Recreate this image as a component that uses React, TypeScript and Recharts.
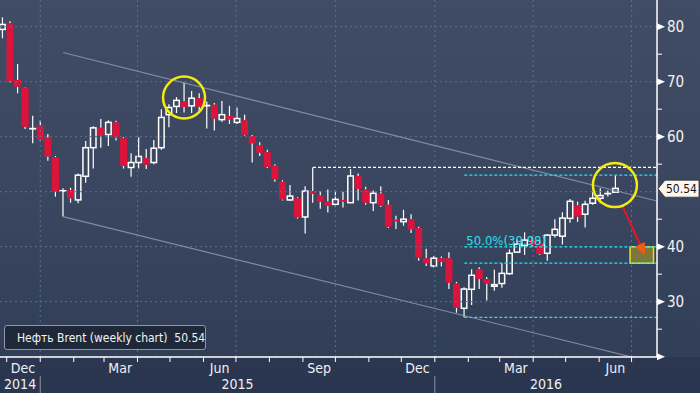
import React from 'react'
import { ComposedChart, Bar, Area, XAxis, YAxis, ReferenceLine, ReferenceDot, ReferenceArea } from 'recharts'

// weekly Brent candles, week ending dates
const weeks = [
  '2014-11-21', '2014-11-28', '2014-12-05', '2014-12-12', '2014-12-19', '2014-12-26',
  '2015-01-02', '2015-01-09', '2015-01-16', '2015-01-23', '2015-01-30', '2015-02-06',
  '2015-02-13', '2015-02-20', '2015-02-27', '2015-03-06', '2015-03-13', '2015-03-20',
  '2015-03-27', '2015-04-03', '2015-04-10', '2015-04-17', '2015-04-24', '2015-05-01',
  '2015-05-08', '2015-05-15', '2015-05-22', '2015-05-29', '2015-06-05', '2015-06-12',
  '2015-06-19', '2015-06-26', '2015-07-03', '2015-07-10', '2015-07-17', '2015-07-24',
  '2015-07-31', '2015-08-07', '2015-08-14', '2015-08-21', '2015-08-28', '2015-09-04',
  '2015-09-11', '2015-09-18', '2015-09-25', '2015-10-02', '2015-10-09', '2015-10-16',
  '2015-10-23', '2015-10-30', '2015-11-06', '2015-11-13', '2015-11-20', '2015-11-27',
  '2015-12-04', '2015-12-11', '2015-12-18', '2015-12-24', '2015-12-31', '2016-01-08',
  '2016-01-15', '2016-01-22', '2016-01-29', '2016-02-05', '2016-02-12', '2016-02-19',
  '2016-02-26', '2016-03-04', '2016-03-11', '2016-03-18', '2016-03-24', '2016-04-01',
  '2016-04-08', '2016-04-15', '2016-04-22', '2016-04-29', '2016-05-06', '2016-05-13',
  '2016-05-20', '2016-05-27', '2016-06-03', '2016-06-10',
]
const open = [
  79.5, 80.6, 70.3, 68.9, 61.4, 62.1, 59.8, 56.3, 50.1, 50.3, 48.5, 52.8,
  58.0, 61.6, 60.4, 62.6, 59.7, 54.4, 55.3, 56.1, 55.3, 58.0, 64.0, 65.5,
  66.4, 65.6, 67.0, 65.6, 65.8, 63.1, 63.75, 62.6, 63.0, 60.1, 58.4, 57.2,
  54.7, 51.8, 48.5, 48.8, 45.4, 50.1, 49.3, 48.2, 47.7, 48.5, 48.0, 52.85,
  50.4, 48.0, 49.6, 47.6, 44.85, 44.55, 45.0, 43.4, 37.9, 36.5, 37.9, 37.9,
  33.3, 28.8, 32.25, 35.9, 34.1, 32.8, 33.3, 35.1, 39.0, 40.2, 41.3, 40.7,
  38.8, 42.1, 41.9, 45.15, 47.5, 45.9, 47.9, 48.8, 49.6, 49.9,
]
const high = [
  81.7, 81.0, 73.2, 69.0, 63.8, 63.0, 60.5, 56.5, 50.6, 50.7, 53.3, 59.2,
  61.9, 63.2, 63.0, 62.9, 59.9, 57.0, 59.9, 57.75, 59.4, 65.0, 65.9, 67.2,
  69.8, 68.3, 67.9, 66.4, 66.1, 66.5, 65.6, 65.3, 64.0, 60.3, 59.0, 57.6,
  55.0, 52.1, 51.2, 49.0, 51.0, 54.4, 50.1, 50.4, 50.3, 50.0, 54.1, 53.3,
  50.9, 50.2, 51.0, 48.5, 45.6, 46.7, 45.9, 43.6, 39.6, 38.3, 38.2, 39.0,
  33.6, 32.6, 35.9, 36.25, 34.5, 35.8, 37.0, 39.5, 41.3, 42.6, 41.8, 41.2,
  42.3, 45.0, 46.25, 48.65, 48.2, 48.35, 49.9, 50.6, 50.2, 53.0,
]
const low = [
  77.9, 69.9, 67.9, 61.4, 58.8, 59.2, 55.6, 49.1, 45.5, 48.0, 47.9, 51.6,
  54.2, 58.0, 58.3, 59.3, 54.2, 52.7, 54.2, 54.1, 55.0, 57.6, 61.7, 64.3,
  64.4, 64.3, 64.3, 61.5, 61.1, 62.7, 62.3, 62.3, 60.2, 55.3, 56.5, 54.3,
  51.8, 48.4, 48.3, 45.1, 42.4, 48.0, 46.9, 46.2, 47.2, 47.1, 47.9, 48.4,
  47.6, 46.5, 47.2, 43.4, 43.2, 43.8, 42.5, 37.45, 36.5, 36.2, 36.4, 32.3,
  28.0, 27.15, 29.4, 32.3, 30.2, 32.0, 32.55, 34.9, 38.9, 38.5, 40.0, 38.5,
  37.45, 41.65, 40.4, 44.35, 44.5, 43.5, 47.6, 47.9, 49.1, 49.8,
]
const close = [
  80.4, 70.1, 69.1, 61.8, 61.5, 59.45, 56.4, 50.1, 50.2, 48.8, 53.0, 58.0,
  61.6, 60.2, 62.6, 59.8, 54.7, 55.3, 56.4, 54.9, 57.9, 63.5, 65.3, 66.6,
  65.4, 67.0, 65.45, 65.7, 63.3, 64.0, 63.15, 63.3, 60.35, 58.8, 57.1, 54.5,
  52.25, 48.6, 49.2, 45.35, 50.1, 49.6, 48.2, 47.45, 48.6, 48.2, 52.85, 50.5,
  48.0, 49.7, 47.45, 43.6, 44.65, 45.0, 43.15, 38.0, 37.0, 37.9, 37.25, 33.45,
  28.9, 32.3, 34.8, 34.1, 33.3, 33.1, 35.15, 38.8, 40.45, 41.2, 40.3, 38.65,
  42.1, 43.15, 45.2, 48.25, 45.45, 47.7, 48.8, 49.3, 49.7, 50.6,
]

const seriesName = 'Нефть Brent (weekly chart)'
const lastPrice = 50.54

// price channel (week index, price)
const channelX = [7.97, 86.46]
const channelUpper = [75.3, 48.3]
const channelLower = [45.45, 18.8]

// retracement drawn from the January 2016 low
const fibStartWeek = 61
const fibLevels = [53.0, 39.98, 37.0, 27.15]
const fibLabel = '50.0%(39.98)'
const resistStartWeek = 41
const resistLevel = 54.4

// annotations
const circles = [
  { x: 23.96, y: 67.1, r: 21 },
  { x: 80.9, y: 51.2, r: 22 },
]
const arrowFrom = { x: 81.92, y: 47.27 }
const arrowTo = { x: 84.87, y: 38.49 }
const targetBox = { x1: 82.9, x2: 86.0, y1: 37.0, y2: 39.98 }

const monthNames = ['Jan', 'Feb', 'Mar', 'Apr', 'May', 'Jun', 'Jul', 'Aug', 'Sep', 'Oct', 'Nov', 'Dec']
const monthStarts: [number, number][] = [
  [2014, 12], [2015, 1], [2015, 2], [2015, 3], [2015, 4], [2015, 5], [2015, 6], [2015, 7],
  [2015, 8], [2015, 9], [2015, 10], [2015, 11], [2015, 12], [2016, 1], [2016, 2], [2016, 3],
  [2016, 4], [2016, 5], [2016, 6], [2016, 7],
]
const labelMonths: [number, number][] = [
  [2014, 12], [2015, 3], [2015, 6], [2015, 9], [2015, 12], [2016, 3], [2016, 6],
]
const years = [2014, 2015, 2016]

const yTicks = [20, 25, 30, 35, 40, 45, 50, 55, 60, 65, 70, 75, 80]
const yGrid = [20, 30, 40, 50, 60, 70, 80]

const X_DOMAIN: [number, number] = [-0.36, 86.46]
const Y_DOMAIN: [number, number] = [19.94, 84.85]

const FONT = "'Liberation Sans Narrow', 'DejaVu Sans Condensed', sans-serif"
const RED = '#dc143c'
const CYAN = '#22e2ef'
const GRID = '#587190'
const CHANNEL = '#9aa3b5'

const DAY = 864e5
const t0 = Date.UTC(2014, 10, 21)
const posOf = (y: number, m: number, d: number) => (Date.UTC(y, m - 1, d) - t0) / (7 * DAY) - 0.9

const rows = weeks.map((date, i) => ({ i, date, o: open[i], h: high[i], l: low[i], c: close[i] }))

const channel = channelX.map((x, k) => ({ x, band: [channelLower[k], channelUpper[k]] }))

// x ticks: month starts, month labels, year labels
type TickInfo = { kind: 'month' | 'year' | 'mlabel' | 'ylabel'; text?: string }
const xTickInfo = new Map<string, TickInfo>()
const xTicks: number[] = []
const addTick = (v: number, info: TickInfo) => {
  xTicks.push(v)
  xTickInfo.set(v.toFixed(4), info)
}
monthStarts.forEach(([y, m]) => addTick(posOf(y, m, 1), { kind: m === 1 ? 'year' : 'month' }))
labelMonths.forEach(([y, m]) => addTick(posOf(y, m, 16), { kind: 'mlabel', text: monthNames[m - 1] }))
years.forEach((y) => {
  const a = Math.max(X_DOMAIN[0], posOf(y, 1, 1))
  const b = Math.min(X_DOMAIN[1], posOf(y + 1, 1, 1))
  addTick((a + b) / 2, { kind: 'ylabel', text: String(y) })
})
xTicks.sort((a, b) => a - b)
const quarterStarts = monthStarts.filter(([, m]) => m % 3 === 1).map(([y, m]) => posOf(y, m, 1))

function XTick({ x, y, payload }: any) {
  const info = xTickInfo.get(Number(payload.value).toFixed(4))
  if (!info) return <g />
  if (info.kind === 'month') return <line x1={x} x2={x} y1={y} y2={y + 5} stroke="#fff" />
  if (info.kind === 'year')
    return (
      <g>
        <line x1={x} x2={x} y1={y} y2={y + 5} stroke="#fff" />
        <line x1={x} x2={x} y1={y + 19} y2={y + 36} stroke="#8d95a6" />
      </g>
    )
  return (
    <text x={x} y={info.kind === 'mlabel' ? y + 16 : y + 32} textAnchor="middle" fill="#eef0f4" fontSize={14} fontFamily={FONT}>
      {info.text}
    </text>
  )
}

function YTick({ x, y, payload }: any) {
  const v = payload.value
  if (v === 50) return <g />
  if (v % 10 !== 0) return <line x1={x} x2={x + 5} y1={y} y2={y} stroke="#fff" />
  return (
    <g>
      <polygon points={`${x},${y - 3.5} ${x + 8},${y} ${x},${y + 3.5}`} fill="#fff" />
      {v !== 20 && (
        <text x={x + 10} y={y + 5} fill="#f2f2f2" fontSize={15} fontFamily={FONT}>
          {v}
        </text>
      )}
    </g>
  )
}

function Candle(props: any) {
  const { x, y, width, height, payload } = props
  const { o, h, l, c } = payload
  const top = Math.min(y, y + height)
  const span = Math.abs(height)
  const py = (v: number) => top + ((h - v) / (h - l)) * span
  const cx = x + width / 2
  const up = c >= o
  const bt = py(Math.max(o, c))
  const bb = py(Math.min(o, c))
  if (bb - bt < 1.3) {
    return (
      <g>
        <line x1={cx} x2={cx} y1={top} y2={top + span} stroke="#fff" strokeWidth={1.2} />
        <rect x={x} y={(bt + bb) / 2 - 0.9} width={width} height={1.8} fill={up ? '#fff' : RED} />
      </g>
    )
  }
  return (
    <g>
      <line x1={cx} x2={cx} y1={top} y2={bt} stroke="#fff" strokeWidth={1.2} />
      <line x1={cx} x2={cx} y1={bb} y2={top + span} stroke="#fff" strokeWidth={1.2} />
      {up ? (
        <rect x={x + 0.75} y={bt} width={width - 1.5} height={bb - bt} fill="none" stroke="#fff" strokeWidth={1.5} />
      ) : (
        <rect x={x} y={bt} width={width} height={Math.max(bb - bt, 1.5)} fill={RED} />
      )}
    </g>
  )
}

function Arrow({ x1, y1, x2, y2 }: any) {
  const ang = Math.atan2(y2 - y1, x2 - x1)
  const len = 13
  const spread = 0.42
  const p1 = [x2 - len * Math.cos(ang - spread), y2 - len * Math.sin(ang - spread)]
  const p2 = [x2 - len * Math.cos(ang + spread), y2 - len * Math.sin(ang + spread)]
  return (
    <g>
      <line x1={x1} y1={y1} x2={x2 - 6 * Math.cos(ang)} y2={y2 - 6 * Math.sin(ang)} stroke="#e8151c" strokeWidth={2} />
      <polygon points={`${x2},${y2} ${p1[0]},${p1[1]} ${p2[0]},${p2[1]}`} fill="#f05a14" />
    </g>
  )
}

function PriceTag({ cx, cy }: any) {
  return (
    <g>
      <polygon
        points={`${cx + 1},${cy} ${cx + 8},${cy - 8.5} ${cx + 42},${cy - 8.5} ${cx + 42},${cy + 8.5} ${cx + 8},${cy + 8.5}`}
        fill="#fff6ee"
        stroke="#333"
        strokeWidth={0.8}
      />
      <text x={cx + 9} y={cy + 4.5} fill="#151515" fontSize={12} fontFamily={FONT}>
        {lastPrice.toFixed(2)}
      </text>
    </g>
  )
}

function FibText({ cx, cy }: any) {
  return (
    <text x={cx + 2} y={cy - 2} fill={CYAN} fontSize={13} fontFamily={FONT}>
      {fibLabel}
    </text>
  )
}

export default function App() {
  return (
    <div
      style={{
        position: 'absolute',
        left: 0,
        top: 0,
        width: 700,
        height: 393,
        background: 'linear-gradient(to bottom, #404c64 0px, #3a465f 200px, #313e58 357px, #2b3751 357px, #2a3650 393px)',
        fontFamily: FONT,
      }}
    >
      <ComposedChart width={700} height={393} data={rows} margin={{ top: 0, right: 0, bottom: 0, left: 0 }}>
        <XAxis
          dataKey="i"
          type="number"
          domain={X_DOMAIN}
          allowDataOverflow
          ticks={xTicks}
          interval={0}
          tick={<XTick />}
          tickLine={false}
          tickSize={0}
          tickMargin={0}
          axisLine={{ stroke: '#fff', strokeWidth: 1.5 }}
          height={36}
        />
        <YAxis
          orientation="right"
          type="number"
          domain={Y_DOMAIN}
          allowDataOverflow
          ticks={yTicks}
          interval={0}
          tick={<YTick />}
          tickLine={false}
          tickSize={0}
          tickMargin={0}
          axisLine={{ stroke: '#fff', strokeWidth: 1.5 }}
          width={43}
        />
        <Area data={channel} dataKey="band" type="linear" stroke="none" fill="#ffffff" fillOpacity={0.045} isAnimationActive={false} />
        {yGrid.map((v) => (
          <ReferenceLine key={'g' + v} y={v} stroke={GRID} strokeDasharray="2 3" />
        ))}
        {quarterStarts.map((v) => (
          <ReferenceLine key={'q' + v} x={v} stroke={GRID} strokeDasharray="2 3" />
        ))}
        <ReferenceLine
          segment={[{ x: channelX[0], y: channelUpper[0] }, { x: channelX[1], y: channelUpper[1] }]}
          stroke={CHANNEL}
          strokeOpacity={0.75}
          strokeWidth={1.2}
          ifOverflow="hidden"
        />
        <ReferenceLine
          segment={[{ x: channelX[0], y: channelLower[0] }, { x: channelX[1], y: channelLower[1] }]}
          stroke={CHANNEL}
          strokeOpacity={0.75}
          strokeWidth={1.2}
          ifOverflow="hidden"
        />
        <ReferenceLine
          segment={[{ x: resistStartWeek, y: resistLevel }, { x: X_DOMAIN[1], y: resistLevel }]}
          stroke="#ffffff"
          strokeDasharray="3 2"
          strokeWidth={1.2}
        />
        {fibLevels.map((v) => (
          <ReferenceLine
            key={'f' + v}
            segment={[{ x: fibStartWeek, y: v }, { x: X_DOMAIN[1], y: v }]}
            stroke={CYAN}
            strokeDasharray="3 2"
            strokeWidth={1.2}
          />
        ))}
        <ReferenceDot x={fibStartWeek} y={fibLevels[1]} r={0} shape={<FibText />} ifOverflow="visible" />
        <Bar dataKey={(d: any) => [d.l, d.h]} barSize={7} shape={<Candle />} isAnimationActive={false} />
        <ReferenceArea {...targetBox} fill="#7f7b37" fillOpacity={0.95} stroke="#e9e21a" strokeWidth={1.5} ifOverflow="visible" />
        {circles.map((c, k) => (
          <ReferenceDot key={'c' + k} x={c.x} y={c.y} r={c.r} fill="none" stroke="#f3ea0f" strokeWidth={2.5} ifOverflow="visible" />
        ))}
        <ReferenceLine segment={[arrowFrom, arrowTo]} shape={<Arrow />} ifOverflow="visible" />
        <ReferenceDot x={X_DOMAIN[1]} y={lastPrice} r={0} shape={<PriceTag />} ifOverflow="visible" />
      </ComposedChart>
      <div
        style={{
          position: 'absolute',
          left: 4,
          top: 325,
          width: 202,
          height: 25,
          boxSizing: 'border-box',
          border: '1px solid #8f98a8',
          borderRadius: 3,
          background: '#1f2839',
          display: 'flex',
          alignItems: 'center',
          color: '#f4f4f4',
          fontSize: 12,
          whiteSpace: 'nowrap',
        }}
      >
        <span style={{ display: 'inline-block', width: 9, height: 9, background: '#f7eeee', margin: '0 6px 0 6px' }} />
        {seriesName}&nbsp;&nbsp;{lastPrice.toFixed(2)}
      </div>
    </div>
  )
}
